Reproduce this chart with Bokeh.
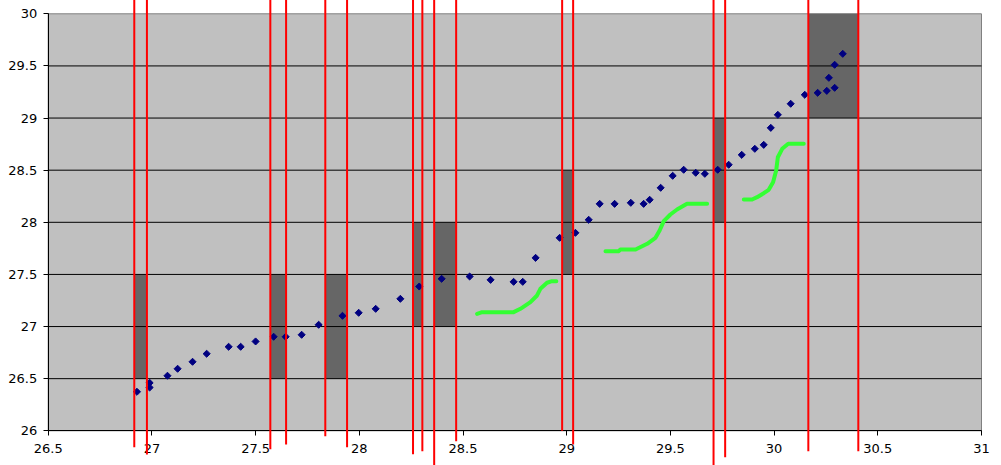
import numpy as np
from bokeh.plotting import figure
from bokeh.models import LinearAxis, FixedTicker, Range1d
from bokeh.embed import file_html
from bokeh.resources import INLINE

# ---- data ----
x_ticks = [26.5, 27.0, 27.5, 28.0, 28.5, 29.0, 29.5, 30.0, 30.5, 31.0]
x_tick_labels = ["26.5", "27", "27.5", "28", "28.5", "29", "29.5", "30", "30.5", "31"]
y_ticks = [26.0, 26.5, 27.0, 27.5, 28.0, 28.5, 29.0, 29.5, 30.0]
y_tick_labels = ["26", "26.5", "27", "27.5", "28", "28.5", "29", "29.5", "30"]

pts_x = [26.928, 26.989, 26.989, 27.075, 27.124, 27.196, 27.264, 27.370, 27.428, 27.500,
         27.587, 27.645, 27.722, 27.804, 27.919, 27.997, 28.079, 28.198, 28.289, 28.397,
         28.532, 28.633, 28.744, 28.788, 28.850, 28.966, 29.042, 29.106, 29.159, 29.231,
         29.309, 29.371, 29.400, 29.453, 29.511, 29.564, 29.622, 29.666, 29.728, 29.781,
         29.844, 29.907, 29.950, 29.984, 30.018, 30.080, 30.148, 30.210, 30.254, 30.292,
         30.264, 30.292, 30.331]
pts_y = [26.374, 26.460, 26.415, 26.528, 26.595, 26.662, 26.739, 26.806, 26.806, 26.857,
         26.902, 26.902, 26.921, 27.017, 27.103, 27.132, 27.170, 27.266, 27.384, 27.458,
         27.480, 27.448, 27.429, 27.429, 27.659, 27.851, 27.899, 28.024, 28.177, 28.177,
         28.187, 28.177, 28.216, 28.331, 28.446, 28.504, 28.475, 28.465, 28.504, 28.552,
         28.647, 28.705, 28.743, 28.906, 29.031, 29.137, 29.223, 29.242, 29.261, 29.290,
         29.386, 29.511, 29.616]

box_left = [26.915, 27.571, 27.836, 28.259, 28.361, 28.978, 29.708, 30.165]
box_right = [26.976, 27.647, 27.941, 28.304, 28.467, 29.031, 29.764, 30.406]
box_bottom = [26.5, 26.5, 26.5, 27.0, 27.0, 27.5, 28.0, 29.0]
box_top = [27.5, 27.5, 27.5, 28.0, 28.0, 28.5, 29.0, 30.0]
red_bottom_left = [25.843, 25.823, 25.948, 25.776, 25.600, 26.000, 25.600, 25.804]
red_bottom_right = [25.773, 25.868, 25.843, 25.804, 25.900, 25.868, 25.747, 25.804]

green1_x = [28.568, 28.592, 28.744, 28.777, 28.825, 28.857, 28.873, 28.905, 28.929, 28.950]
green1_y = [27.122, 27.138, 27.138, 27.170, 27.234, 27.298, 27.362, 27.420, 27.435, 27.435]
green2_x = [29.187, 29.251, 29.259, 29.332, 29.388, 29.428, 29.448, 29.468, 29.500, 29.532, 29.580, 29.677]
green2_y = [27.723, 27.723, 27.739, 27.739, 27.794, 27.851, 27.921, 28.011, 28.075, 28.123, 28.177, 28.177]
green3_x = [29.854, 29.894, 29.918, 29.950, 29.974, 29.995, 30.010, 30.018, 30.039, 30.068, 30.143]
green3_y = [28.219, 28.219, 28.241, 28.279, 28.312, 28.385, 28.497, 28.624, 28.705, 28.753, 28.753]

# ---- layout ----
W, H = 1001, 465
X0, X1 = 26.270, 31.0964
Y0, Y1 = 25.6671, 30.1276

p = figure(width=W, height=H, x_range=Range1d(X0, X1), y_range=Range1d(Y0, Y1),
           output_backend="svg", toolbar_location=None, min_border=0, title=None,
           x_axis_type=None, y_axis_type=None)
p.outline_line_color = None
p.background_fill_color = "white"
p.border_fill_color = "white"

# plot area
p.quad(left=[x_ticks[0]], right=[x_ticks[-1]], bottom=[y_ticks[0]], top=[y_ticks[-1]],
       fill_color="#c0c0c0", line_color="#808080", line_width=1)

# dark boxes
p.quad(left=box_left, right=box_right, bottom=box_bottom, top=box_top,
       fill_color="#666666", line_color=None)

# gridlines
inner = y_ticks[1:-1]
n = len(inner)
p.segment(x0=[x_ticks[0]] * n, x1=[x_ticks[-1]] * n, y0=inner, y1=inner,
          line_color="black", line_width=1)

# points
p.scatter(pts_x, pts_y, marker="square", angle=np.pi / 4, size=5,
          fill_color="#000080", line_color="#000080")

# green curves
for gx, gy in [(green1_x, green1_y), (green2_x, green2_y), (green3_x, green3_y)]:
    p.line(gx, gy, line_color="#33ff33", line_width=4, line_join="round", line_cap="round")

# red lines
red_x = box_left + box_right
red_b = red_bottom_left + red_bottom_right
red_t = [Y1 + 0.2] * len(red_x)
p.segment(x0=red_x, x1=red_x, y0=red_b, y1=red_t, line_color="#ff0000", line_width=2,
          level="overlay")

# axes
common = dict(major_tick_out=5, major_tick_in=0, minor_tick_out=0, minor_tick_in=0,
              axis_line_color="black", major_tick_line_color="black",
              major_label_text_font="DejaVu Sans", major_label_text_font_size="13px",
              major_label_text_color="black")
xaxis = LinearAxis(fixed_location=y_ticks[0], bounds=(x_ticks[0], x_ticks[-1]),
                   ticker=FixedTicker(ticks=x_ticks),
                   major_label_overrides=dict(zip(x_ticks, x_tick_labels)),
                   major_label_standoff=8, **common)
p.add_layout(xaxis, "below")
yaxis = LinearAxis(fixed_location=x_ticks[0], bounds=(y_ticks[0], y_ticks[-1]),
                   ticker=FixedTicker(ticks=y_ticks),
                   major_label_overrides=dict(zip(y_ticks, y_tick_labels)),
                   major_label_standoff=6, **common)
p.add_layout(yaxis, "left")

open("out.html", "w").write(file_html(p, INLINE))
